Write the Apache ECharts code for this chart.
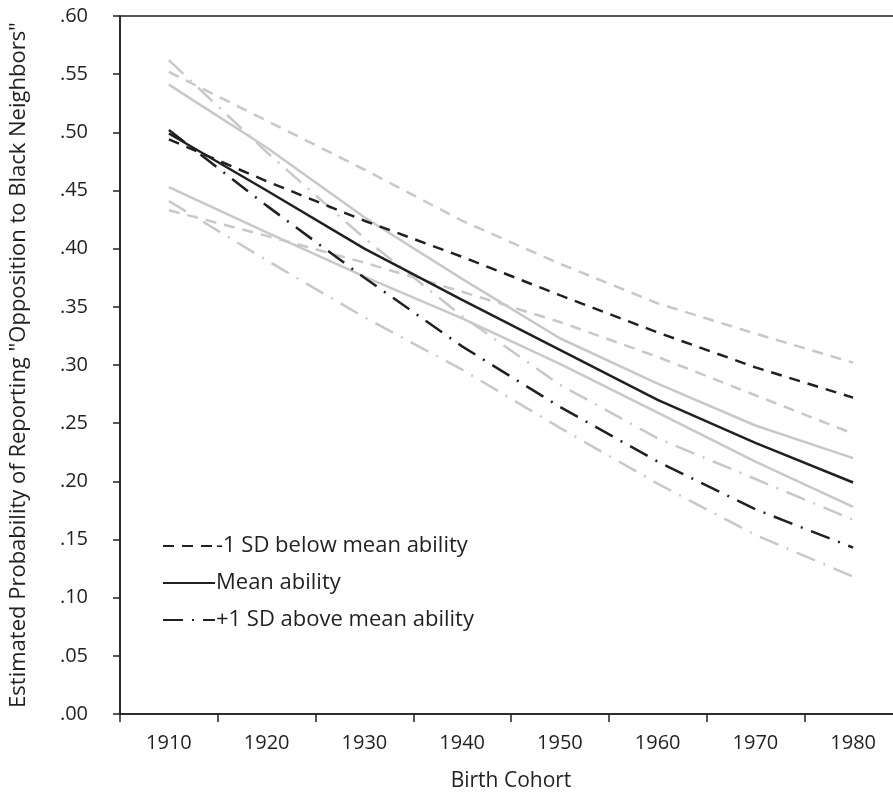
<!DOCTYPE html>
<html>
<head>
<meta charset="utf-8">
<script src="https://cdn.jsdelivr.net/npm/echarts@6/dist/echarts.min.js"></script>
<style>html,body{margin:0;padding:0;background:#fff;}#c{width:893px;height:798px;}</style>
</head>
<body>
<div id="c"></div>
<script>
var categories = ['1910','1920','1930','1940','1950','1960','1970','1980'];
var belowMean    = [0.494, 0.458, 0.424, 0.393, 0.360, 0.328, 0.298, 0.272];
var belowUpper   = [0.552, 0.510, 0.468, 0.424, 0.387, 0.353, 0.327, 0.302];
var belowLower   = [0.433, 0.411, 0.388, 0.363, 0.337, 0.307, 0.274, 0.241];
var meanAbility  = [0.499, 0.450, 0.400, 0.356, 0.313, 0.270, 0.233, 0.199];
var meanUpper    = [0.541, 0.487, 0.427, 0.374, 0.323, 0.284, 0.248, 0.220];
var meanLower    = [0.453, 0.414, 0.376, 0.340, 0.301, 0.259, 0.217, 0.178];
var aboveMean    = [0.502, 0.437, 0.375, 0.316, 0.264, 0.217, 0.176, 0.143];
var aboveUpper   = [0.562, 0.483, 0.409, 0.342, 0.283, 0.237, 0.202, 0.167];
var aboveLower   = [0.441, 0.390, 0.341, 0.296, 0.246, 0.198, 0.154, 0.118];
var legendNames  = ['-1 SD below mean ability', 'Mean ability', '+1 SD above mean ability'];

var BLACK = '#231f20', GRAY = '#c8c8c8';
var DASH = [11, 8], DASHDOT = [20, 9, 2, 9];
var FONT = 'Open Sans';

function mk(name, data, color, type, z) {
  return {
    name: name, type: 'line', data: data, symbol: 'none', silent: true, z: z,
    lineStyle: { color: color, width: 2.5, type: type, cap: 'butt' },
    itemStyle: { color: color }
  };
}

var chart = echarts.init(document.getElementById('c'), null, { renderer: 'canvas' });
chart.setOption({
  animation: false,
  backgroundColor: '#fff',
  grid: {
    left: 120, width: 782, top: 16, bottom: 84, containLabel: false, outerBoundsMode: 'none',
    show: true, borderColor: BLACK, borderWidth: 1.5
  },
  legend: {
    data: legendNames, orient: 'vertical', left: 157, top: 530,
    itemWidth: 52, itemHeight: 14, itemGap: 15,
    itemStyle: { opacity: 0 },
    textStyle: { fontFamily: FONT, fontSize: 22, color: BLACK, padding: [0, 0, 0, -4] },
    selectedMode: false
  },
  xAxis: {
    type: 'category', data: categories, boundaryGap: true,
    name: 'Birth Cohort', nameLocation: 'middle', nameGap: 57,
    nameTextStyle: { fontFamily: FONT, fontSize: 21, color: BLACK },
    axisLine: { lineStyle: { color: BLACK, width: 1.5 } },
    axisTick: { show: true, length: 8, lineStyle: { color: BLACK, width: 1.5 } },
    axisLabel: { fontFamily: FONT, fontSize: 20, color: BLACK, margin: 19 },
    splitLine: { show: false }
  },
  yAxis: {
    type: 'value', min: 0, max: 0.6, interval: 0.05,
    name: 'Estimated Probability of Reporting "Opposition to Black Neighbors"',
    nameLocation: 'middle', nameGap: 90,
    nameTextStyle: { fontFamily: FONT, fontSize: 22, color: BLACK },
    axisLine: { show: true, lineStyle: { color: BLACK, width: 1.5 } },
    axisTick: { show: true, length: 7, lineStyle: { color: BLACK, width: 1.5 } },
    axisLabel: {
      fontFamily: FONT, fontSize: 20, color: BLACK, margin: 32,
      formatter: function (v) { return v.toFixed(2).replace(/^0/, ''); }
    },
    splitLine: { show: false }
  },
  series: [
    mk('bu', belowUpper, GRAY, DASH, 1),
    mk('bl', belowLower, GRAY, DASH, 1),
    mk('mu', meanUpper, GRAY, 'solid', 1),
    mk('ml', meanLower, GRAY, 'solid', 1),
    mk('au', aboveUpper, GRAY, DASHDOT, 1),
    mk('al', aboveLower, GRAY, DASHDOT, 1),
    mk(legendNames[0], belowMean, BLACK, DASH, 3),
    mk(legendNames[1], meanAbility, BLACK, 'solid', 3),
    mk(legendNames[2], aboveMean, BLACK, DASHDOT, 3)
  ]
});
</script>
</body>
</html>
